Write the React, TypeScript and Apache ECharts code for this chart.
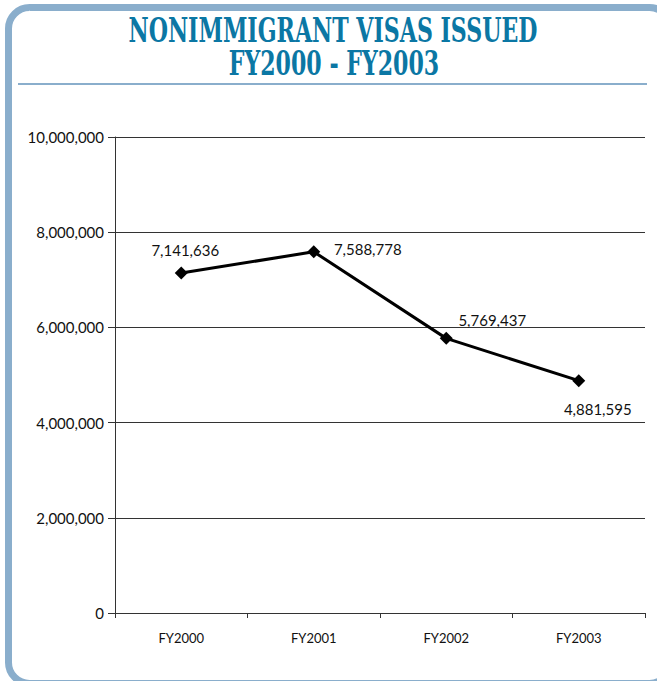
import React, { useEffect, useRef } from "react";
import * as echarts from "echarts";

const categories = ["FY2000", "FY2001", "FY2002", "FY2003"];
const visas = [7141636, 7588778, 5769437, 4881595];
const labelOffsets: [number, number][] = [
  [4, -23],
  [54, -3],
  [46, -18],
  [19, 28],
];
const titleLines = ["NONIMMIGRANT VISAS ISSUED", "FY2000 - FY2003"];

const fmt = (v: number) => v.toLocaleString("en-US");

export default function App() {
  const ref = useRef<HTMLDivElement>(null);
  useEffect(() => {
    if (!ref.current) return;
    const chart = echarts.init(ref.current, null, { renderer: "svg" });
    const font = "Lato";
    chart.setOption({
      animation: false,
      backgroundColor: "#ffffff",
      graphic: [
        {
          type: "rect",
          shape: { x: 8.5, y: 7.5, width: 662, height: 676, r: 21 },
          style: { fill: "none", stroke: "#8aaecc", lineWidth: 7 },
          z: 10,
        },
        {
          type: "line",
          shape: { x1: 18, y1: 84, x2: 647, y2: 84 },
          style: { stroke: "#8aaecc", lineWidth: 2 },
        },
        {
          type: "text",
          x: 333,
          y: 30,
          scaleX: 0.65,
          style: {
            text: titleLines[0],
            fontFamily: "DejaVu Serif",
            fontWeight: "bold",
            fontSize: 34,
            fill: "#0b77a4",
            textAlign: "center",
            textVerticalAlign: "middle",
          },
        },
        {
          type: "text",
          x: 334,
          y: 63,
          scaleX: 0.65,
          style: {
            text: titleLines[1],
            fontFamily: "DejaVu Serif",
            fontWeight: "bold",
            fontSize: 34,
            fill: "#0b77a4",
            textAlign: "center",
            textVerticalAlign: "middle",
          },
        },
      ],
      grid: { left: 115, top: 137, right: 12, bottom: 68, containLabel: false },
      xAxis: {
        type: "category",
        data: categories,
        boundaryGap: true,
        axisLine: { lineStyle: { color: "#333", width: 1 } },
        axisTick: { show: true, length: 5, lineStyle: { color: "#333" } },
        axisLabel: { color: "#111", fontFamily: font, fontSize: 13, margin: 18 },
      },
      yAxis: {
        type: "value",
        min: 0,
        max: 10000000,
        interval: 2000000,
        axisLine: { show: true, lineStyle: { color: "#333", width: 1 } },
        axisTick: { show: true, length: 7, lineStyle: { color: "#333" } },
        splitLine: { show: true, lineStyle: { color: "#333", width: 1 } },
        axisLabel: {
          color: "#111",
          fontFamily: font,
          fontSize: 15,
          margin: 11,
          formatter: (v: number) => fmt(v),
        },
      },
      series: [
        {
          type: "line",
          data: visas.map((v, i) => ({
            value: v,
            label: {
              show: true,
              position: "inside",
              offset: labelOffsets[i],
              formatter: fmt(v),
              color: "#111",
              fontFamily: font,
              fontSize: 15,
            },
          })),
          symbol: "diamond",
          symbolSize: 13,
          itemStyle: { color: "#000" },
          lineStyle: { color: "#000", width: 3 },
        },
      ],
    });
    return () => chart.dispose();
  }, []);
  return <div ref={ref} style={{ width: 657, height: 681, position: "absolute", left: 0, top: 0 }} />;
}
